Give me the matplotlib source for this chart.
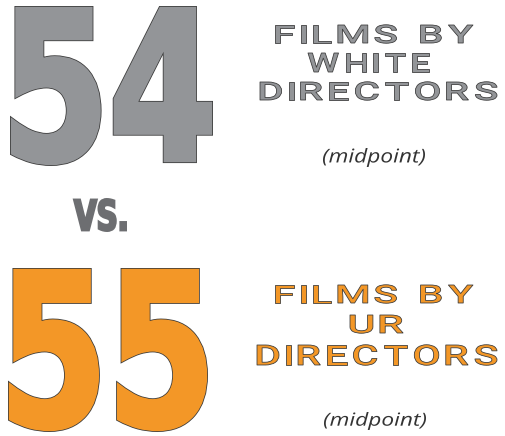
import matplotlib
matplotlib.use('Agg')
import matplotlib.pyplot as plt
from matplotlib.textpath import TextPath
from matplotlib.patches import PathPatch
from matplotlib.font_manager import FontProperties
from matplotlib.transforms import Affine2D

# Values and labels
numbers = ["54", "55"]
label_white = ["FILMS BY", "WHITE", "DIRECTORS"]
label_ur = ["FILMS BY", "UR", "DIRECTORS"]
note = "(midpoint)"
versus = "VS."

GRAY = '#939598'
ORANGE = '#f39727'
DARK = '#6d6e71'
EDGE = '#3a3a3a'

W, H = 506, 436
PX = 72 / 100  # points per pixel


def draw_fit(ax, s, box, prop, face, edge=None, bold_px=0.0, edge_px=0.0):
    """Draw string s as a path stretched to fill the pixel box (x0, y0, x1, y1).
    bold_px thickens the glyphs by stroking them in the fill colour."""
    tp = TextPath((0, 0), s, size=100, prop=prop)
    bb = tp.get_extents()
    x0, y0, x1, y1 = box
    b = bold_px / 2 + edge_px
    x0, y0, x1, y1 = x0 + b, y0 + b, x1 - b, y1 - b
    sx = (x1 - x0) / bb.width
    sy = (y1 - y0) / bb.height
    tr = Affine2D().translate(-bb.x0, -bb.y0).scale(sx, -sy).translate(x0, y1)
    path = tr.transform_path(tp)
    if edge is not None:
        ax.add_patch(PathPatch(path, facecolor=face, edgecolor=edge,
                               linewidth=(bold_px + 2 * edge_px) * PX, joinstyle='miter'))
    ax.add_patch(PathPatch(path, facecolor=face, edgecolor=face,
                           linewidth=bold_px * PX, joinstyle='miter'))


def draw_tracked(ax, s, box, prop, face, edge, gap_px=7, space_px=10, edge_px=0.8):
    """Letter-spaced caps line fitted into the pixel box."""
    x0, y0, x1, y1 = box
    cap = TextPath((0, 0), 'H', size=100, prop=prop).get_extents().height
    sy = (y1 - y0) / cap
    glyphs = [TextPath((0, 0), ch, size=100, prop=prop) if ch != ' ' else None for ch in s]
    ink = sum(g.get_extents().width for g in glyphs if g is not None)
    spaces = s.count(' ')
    fixed = gap_px * (len(s) - 1) + space_px * spaces
    sx = (x1 - x0 - fixed) / ink
    cur = x0
    for tp in glyphs:
        if tp is None:
            cur += space_px + gap_px
            continue
        bb = tp.get_extents()
        tr = Affine2D().translate(-bb.x0, 0).scale(sx, -sy).translate(cur, y1)
        ax.add_patch(PathPatch(tr.transform_path(tp), facecolor=face,
                               edgecolor=edge, linewidth=edge_px * PX,
                               joinstyle='round'))
        cur += bb.width * sx + gap_px


fig = plt.figure(figsize=(W / 100, H / 100), dpi=100)
ax = fig.add_axes([0, 0, 1, 1])
ax.set_xlim(0, W)
ax.set_ylim(H, 0)
ax.axis('off')

big = FontProperties(family=['DejaVu Sans'], weight='bold')
wide = FontProperties(family=['Roboto', 'DejaVu Sans'], weight='medium')
ital = FontProperties(family=['Open Sans', 'DejaVu Sans'], style='italic')

# big numbers
draw_fit(ax, numbers[0], (10, 6, 213, 166), big, GRAY, EDGE, bold_px=5, edge_px=0.8)
draw_fit(ax, numbers[1], (8, 268, 208, 432), big, ORANGE, EDGE, bold_px=5, edge_px=0.8)

# vs.
draw_fit(ax, versus, (73, 198, 127, 232), big, DARK, bold_px=2.5)

# label blocks
top_boxes = [(275, 25, 473, 43), (308, 53, 429, 72), (260, 82, 497, 100)]
bot_boxes = [(275, 285, 473, 303), (350, 315, 403, 333), (257, 345, 497, 365)]
for s, b in zip(label_white, top_boxes):
    draw_tracked(ax, s, b, wide, GRAY, EDGE)
for s, b in zip(label_ur, bot_boxes):
    draw_tracked(ax, s, b, wide, ORANGE, EDGE)

draw_fit(ax, note, (323, 148, 425, 167), ital, '#333333')
draw_fit(ax, note, (324, 412, 426, 430), ital, '#333333')

fig.savefig('out.png', dpi=100)
